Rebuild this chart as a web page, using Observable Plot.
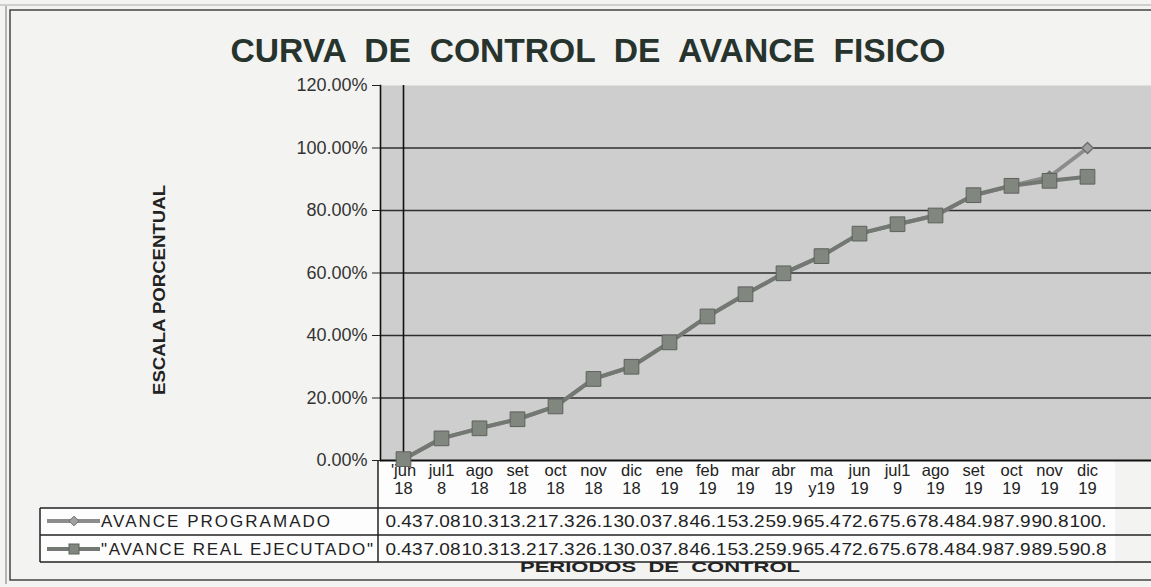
<!DOCTYPE html>
<html><head><meta charset="utf-8">
<script src="https://cdn.jsdelivr.net/npm/d3@7"></script>
<script src="https://cdn.jsdelivr.net/npm/@observablehq/plot@0.6"></script>
<style>
html,body{margin:0;padding:0;background:#f3f3f1;}
#chart svg{display:block;}
</style></head><body><div id="chart"></div>
<script>
const categories = ["'jun\n18","jul1\n8","ago\n18","set\n18","oct\n18","nov\n18","dic\n18","ene\n19","feb\n19","mar\n19","abr\n19","ma\ny19","jun\n19","jul1\n9","ago\n19","set\n19","oct\n19","nov\n19","dic\n19"];
const programado = [0.43,7.08,10.3,13.2,17.3,26.1,30.0,37.8,46.1,53.2,59.9,65.4,72.6,75.6,78.4,84.9,87.9,90.8,100];
const ejecutado  = [0.43,7.08,10.3,13.2,17.3,26.1,30.0,37.8,46.1,53.2,59.9,65.4,72.6,75.6,78.4,84.9,87.9,89.5,90.8];
const yTicks = [0,20,40,60,80,100,120];
const seriesNames = ["AVANCE PROGRAMADO", "\"AVANCE REAL EJECUTADO\""];
const titleText = "CURVA  DE  CONTROL  DE  AVANCE  FISICO";
const yTitle = "ESCALA PORCENTUAL";
const xTitle = "PERIODOS  DE  CONTROL";

const W = 1151, H = 587;
const FONT = "'Liberation Sans', Arial, sans-serif";
const rows = categories.map((c, i) => ({cat: c, prog: programado[i], ejec: ejecutado[i]}));
const fmt = v => v.toFixed(2).slice(0, 4);

const plot = Plot.plot({
  width: W, height: H,
  marginLeft: 380, marginRight: 0, marginTop: 85, marginBottom: 127,
  style: {fontFamily: FONT, background: "transparent", overflow: "visible", color: "#222"},
  x: {type: "point", domain: categories, range: [397, 1093], padding: 0},
  y: {domain: [0, 120]},
  marks: [
    Plot.frame({fill: "#cecece", stroke: null}),
    Plot.ruleY(yTicks.filter(t => t > 0 && t < 120), {stroke: "#2e2e2e", strokeWidth: 1.4}),
    Plot.ruleX([categories[0]], {stroke: "#111", strokeWidth: 1.6}),
    Plot.ruleY([0], {stroke: "#111", strokeWidth: 1.8}),
    Plot.frame({anchor: "left", stroke: "#111", strokeWidth: 1.6}),
    Plot.axisY({ticks: yTicks, tickSize: 8, tickPadding: 5, tickFormat: d => d.toFixed(2) + "%", fontSize: 18, label: null, stroke: "#222", fill: "#333"}),
    Plot.axisX({tickSize: 0, tickPadding: 2, fontSize: 16.5, lineHeight: 1.12, label: null, fill: "#222"}),
    Plot.line(rows, {x: "cat", y: "prog", stroke: "#8c8c8c", strokeWidth: 4}),
    Plot.dot(rows, {x: "cat", y: "prog", symbol: "diamond2", r: 5, fill: "#a0a0a0", stroke: "#6f6f6f"}),
    Plot.line(rows, {x: "cat", y: "ejec", stroke: "#737873", strokeWidth: 4}),
    Plot.dot(rows, {x: "cat", y: "ejec", symbol: "square", r: 8.3, fill: "#81877f", stroke: "#5c625c", strokeWidth: 1}),
    Plot.text(rows, {x: "cat", text: d => fmt(d.prog), frameAnchor: "bottom", lineAnchor: "middle", dy: 61, dx: -18, textAnchor: "start", fontSize: 17, fill: "#222"}),
    Plot.text(rows, {x: "cat", text: d => fmt(d.ejec), frameAnchor: "bottom", lineAnchor: "middle", dy: 89, dx: -18, textAnchor: "start", fontSize: 17, fill: "#222"})
  ]
});
document.getElementById("chart").appendChild(plot);

const svg = d3.select(plot);
// stretch table cell values to fill their cells as in the scanned table
svg.selectAll('g[aria-label="text"] text').attr("textLength", 37).attr("lengthAdjust", "spacingAndGlyphs");

const bg = svg.insert("g", ":first-child");
bg.append("rect").attr("x", 0).attr("y", 0).attr("width", W).attr("height", H).attr("fill", "#f3f3f1");
bg.append("rect").attr("x", 378).attr("y", 460).attr("width", 737).attr("height", 102).attr("fill", "#fdfdfd");
bg.append("rect").attr("x", 40).attr("y", 508).attr("width", 338).attr("height", 54).attr("fill", "#fdfdfd");

const fg = svg.append("g").attr("text-anchor", "start");
// outer border
fg.append("rect").attr("x", 10).attr("y", 10).attr("width", W).attr("height", 570).attr("fill", "none").attr("stroke", "#444").attr("stroke-width", 1.5);
fg.append("line").attr("x1", 6).attr("x2", 6).attr("y1", 6).attr("y2", 584).attr("stroke", "#777").attr("stroke-width", 1);
fg.append("line").attr("x1", 0).attr("x2", W).attr("y1", 5).attr("y2", 5).attr("stroke", "#aaa").attr("stroke-width", 1);
// table lines
[508, 535, 562].forEach(y => fg.append("line").attr("x1", 40).attr("x2", W).attr("y1", y).attr("y2", y).attr("stroke", "#222").attr("stroke-width", 1.5));
fg.append("line").attr("x1", 40).attr("x2", 40).attr("y1", 508).attr("y2", 562).attr("stroke", "#222").attr("stroke-width", 1.5);
fg.append("line").attr("x1", 378).attr("x2", 378).attr("y1", 460).attr("y2", 562).attr("stroke", "#222").attr("stroke-width", 1.5);
// legend swatches
const rowY = [521, 549];
fg.append("line").attr("x1", 47).attr("x2", 100).attr("y1", rowY[0]).attr("y2", rowY[0]).attr("stroke", "#8c8c8c").attr("stroke-width", 4);
fg.append("path").attr("d", d3.symbol(d3.symbolDiamond2, 60)()).attr("transform", `translate(74,${rowY[0]})`).attr("fill", "#a0a0a0").attr("stroke", "#6f6f6f");
fg.append("line").attr("x1", 47).attr("x2", 100).attr("y1", rowY[1]).attr("y2", rowY[1]).attr("stroke", "#737873").attr("stroke-width", 4);
fg.append("rect").attr("x", 69).attr("y", rowY[1] - 5).attr("width", 10).attr("height", 10).attr("fill", "#81877f").attr("stroke", "#5c625c");
const legW = [229, 272];
seriesNames.forEach((n, i) => fg.append("text").attr("x", 101).attr("y", rowY[i]).attr("dy", "0.36em")
  .attr("text-anchor", "start")
  .attr("font-family", FONT).attr("font-size", 17).attr("fill", "#222")
  .attr("textLength", legW[i]).attr("lengthAdjust", "spacing").text(n));
// titles
fg.append("text").attr("x", 588).attr("y", 62).attr("text-anchor", "middle")
  .attr("font-family", FONT).attr("font-weight", "bold").attr("font-size", 33).attr("fill", "#27332d")
  .attr("textLength", 715).attr("lengthAdjust", "spacingAndGlyphs").text(titleText);
fg.append("text").attr("transform", "translate(165,290) rotate(-90)").attr("text-anchor", "middle")
  .attr("font-family", FONT).attr("font-weight", "bold").attr("font-size", 16).attr("fill", "#222")
  .attr("textLength", 210).attr("lengthAdjust", "spacingAndGlyphs").text(yTitle);
fg.append("text").attr("x", 660).attr("y", 572).attr("text-anchor", "middle")
  .attr("font-family", FONT).attr("font-weight", "bold").attr("font-size", 15).attr("fill", "#222")
  .attr("textLength", 280).attr("lengthAdjust", "spacingAndGlyphs").text(xTitle);
</script></body></html>
